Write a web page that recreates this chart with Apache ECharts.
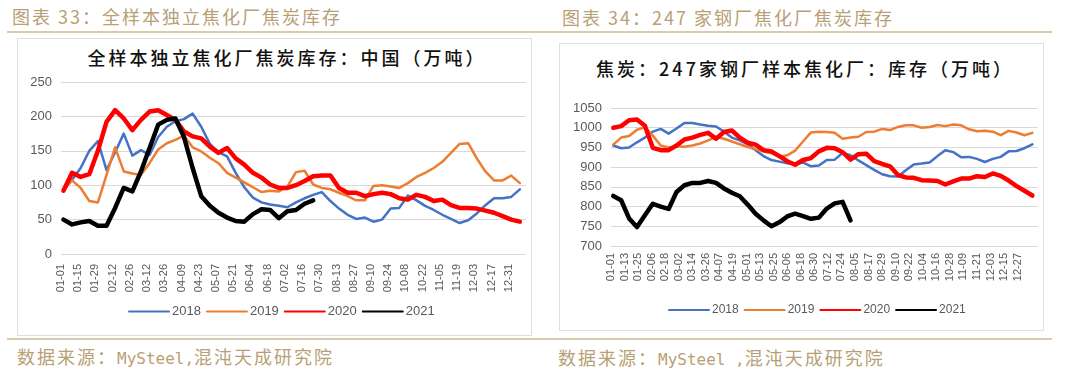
<!DOCTYPE html>
<html><head><meta charset="utf-8">
<script src="https://cdn.jsdelivr.net/npm/echarts@6/dist/echarts.min.js"></script>
<style>
body{margin:0;width:1080px;height:371px;background:#fff;position:relative;overflow:hidden;font-family:"Noto Sans CJK SC",sans-serif;}
.hdr{position:absolute;font-size:18px;letter-spacing:2px;color:#b89f75;white-space:nowrap;line-height:20px;}
.hdr .m{font-family:"DejaVu Sans Mono",monospace;font-size:16px;letter-spacing:0;}
.rule{position:absolute;height:2px;background:#dccbab;}
.box{position:absolute;border:1.5px solid #dedede;box-sizing:border-box;}
.ttl{position:absolute;font-size:18px;font-weight:500;color:#111;white-space:nowrap;letter-spacing:3px;line-height:22px;transform:translateX(-50%);}
.chart{position:absolute;top:0;width:540px;height:371px;}
</style></head>
<body>
<div class="hdr" style="left:12px;top:6px;">图表 33：全样本独立焦化厂焦炭库存</div>
<div class="hdr" style="left:562px;top:7px;">图表 34：247 家钢厂焦化厂焦炭库存</div>
<div class="rule" style="left:7px;top:31px;width:1045px;"></div>
<div class="rule" style="left:7px;top:338px;width:1045px;"></div>
<div class="box" style="left:17px;top:38px;width:515px;height:298px;"></div>
<div class="box" style="left:559px;top:43px;width:485px;height:288px;"></div>
<div class="ttl" style="left:287px;top:46px;">全样本独立焦化厂焦炭库存：中国（万吨）</div>
<div class="ttl" style="left:805px;top:57px;">焦炭：247家钢厂样本焦化厂：库存（万吨）</div>
<div class="hdr" style="left:17px;top:346px;">数据来源：<span class="m">MySteel,</span>混沌天成研究院</div>
<div class="hdr" style="left:558px;top:347px;">数据来源：<span class="m">MySteel ,</span>混沌天成研究院</div>
<div id="c1" class="chart" style="left:0;"></div>
<div id="c2" class="chart" style="left:540px;"></div>
<script>
// day-of-year of each weekly observation
const weekDay = [2,9,16,23,30,37,44,51,58,65,72,79,86,93,100,107,114,121,128,135,142,149,156,163,170,177,184,191,198,205,212,219,226,233,240,247,254,261,268,275,282,289,296,303,310,317,324,331,338,345,352,359,366,373];
const seriesNames = ['2018','2019','2020','2021'];

// Chart 33: independent coking plants coke inventory (10k t)
const tickLabelsL = ['01-01','01-15','01-29','02-12','02-26','03-12','03-26','04-09','04-23','05-07','05-21','06-04','06-18','07-02','07-16','07-30','08-13','08-27','09-10','09-24','10-08','10-22','11-05','11-19','12-03','12-17','12-31'];
const L2018 = [93,108,125,150,164,122,148,175,143,151,144,170,185,193,196,204,185,160,148,142,118,97,82,75,72,70,68,75,81,86,90,77,66,57,51,53,47,50,66,67,85,78,70,64,57,51,45,49,59,71,81,81,83,94];
const L2019 = [93,107,96,77,75,115,155,120,117,115,132,152,161,166,172,155,149,140,132,118,111,104,97,90,92,91,98,119,121,101,96,94,89,84,78,78,99,100,98,96,103,112,118,125,134,147,160,161,139,120,107,107,114,103];
const L2020 = [92,118,112,116,150,192,209,197,180,195,207,209,202,195,178,171,168,156,147,154,139,130,118,111,101,96,96,100,106,113,114,114,96,89,89,84,87,89,87,81,79,86,83,77,79,71,67,67,66,63,60,55,50,47];
const L2021 = [50,43,46,48,41,41,67,96,91,120,154,188,195,197,170,125,84,70,60,53,48,47,58,65,64,52,62,64,73,78];

// Chart 34: 247 steel mills coking plants coke inventory (10k t)
const tickLabelsR = ['01-01','01-13','01-25','02-06','02-18','03-02','03-14','03-26','04-07','04-19','05-01','05-13','05-25','06-06','06-18','06-30','07-12','07-24','08-05','08-17','08-29','09-10','09-22','10-04','10-16','10-28','11-09','11-21','12-03','12-15','12-27'];
const R2018 = [955,948,950,963,975,990,997,985,998,1012,1012,1008,1005,1003,990,975,968,958,943,928,918,914,910,908,912,902,904,918,919,936,930,917,905,893,882,877,876,892,907,909,912,928,943,938,925,926,921,913,921,926,940,941,948,958];
const R2019 = [957,975,979,995,1001,980,955,950,953,952,955,960,968,977,972,965,958,951,945,940,935,927,930,942,965,988,990,989,987,972,975,977,989,990,997,994,1002,1006,1006,1000,1002,1007,1004,1008,1006,996,991,992,990,981,992,988,981,987];
const R2020 = [1000,1004,1019,1021,1005,949,943,943,955,970,975,982,987,972,989,993,975,962,957,943,940,928,915,906,918,923,940,949,948,938,919,933,934,915,908,902,880,874,873,867,866,865,856,864,871,871,877,875,884,878,866,852,840,828];
const R2021 = [827,816,770,748,778,807,800,794,837,854,860,860,865,860,846,835,826,805,782,765,750,760,775,782,776,769,772,795,808,812,765];

const colors = ['#4472C4','#ED7D31','#FF0000','#000000'];
const widths = [2.5,2.5,4.5,4.5];
const DAY_MAX = 378;

function mk(vals){ return vals.map((v,i)=>[weekDay[i], v]); }

function build(el, g, yMin, yMax, stepDays, ticks, data, legendFont){
  const chart = echarts.init(document.getElementById(el), null, {renderer:'canvas'});
  const lastTickDay = stepDays * (ticks.length - 1);
  const labelWidth = g.width * lastTickDay / DAY_MAX;
  chart.setOption({
    animation:false,
    backgroundColor:'transparent',
    grid: [
      {left:g.left, top:g.top, width:g.width, height:g.height},
      {left:g.left, top:g.top, width:labelWidth, height:g.height}
    ],
    legend:{
      data: seriesNames, left:123, top: g.legendTop, itemWidth:40, itemHeight:8, itemGap:5,
      itemStyle:{opacity:0, borderWidth:0},
      textStyle:{color:'#595959', fontSize:legendFont, fontFamily:'Liberation Sans', padding:[0,0,0,-2]}
    },
    xAxis:[
      {
        gridIndex:0, type:'value', min:0, max:DAY_MAX,
        axisLine:{show:false}, axisTick:{show:false}, splitLine:{show:false}, axisLabel:{show:false}
      },
      {
        gridIndex:1, type:'category', data:ticks, boundaryGap:false,
        axisLine:{show:false}, axisTick:{show:false}, splitLine:{show:false},
        axisLabel:{interval:0, rotate:90, margin:g.xMargin, color:'#595959', fontSize:11, fontFamily:'Liberation Sans'}
      }
    ],
    yAxis:[
      {
        gridIndex:0, type:'value', min:yMin, max:yMax, interval:50,
        axisLine:{show:false}, axisTick:{show:false},
        splitLine:{lineStyle:{color:'#d9d9d9', width:1.2}},
        axisLabel:{color:'#595959', fontSize:13, fontFamily:'Liberation Sans', margin:9,
          formatter:function(v){ return String(v); }}
      },
      {gridIndex:1, type:'value', show:false, min:0, max:1}
    ],
    series: data.map((vals,i)=>({
      name: seriesNames[i], type:'line', xAxisIndex:0, yAxisIndex:0, data: mk(vals), symbol:'none', showSymbol:false,
      lineStyle:{color:colors[i], width:widths[i], cap:'round', join:'round'},
      itemStyle:{color:colors[i]}
    }))
  });
}

build('c1', {left:61, top:82, width:465, height:172, legendTop:300, xMargin:10}, 0, 250, 14, tickLabelsL, [L2018,L2019,L2020,L2021], 13);
build('c2', {left:71, top:108, width:427, height:138, legendTop:299, xMargin:7}, 700, 1050, 12, tickLabelsR, [R2018,R2019,R2020,R2021], 12);
</script>
</body></html>
